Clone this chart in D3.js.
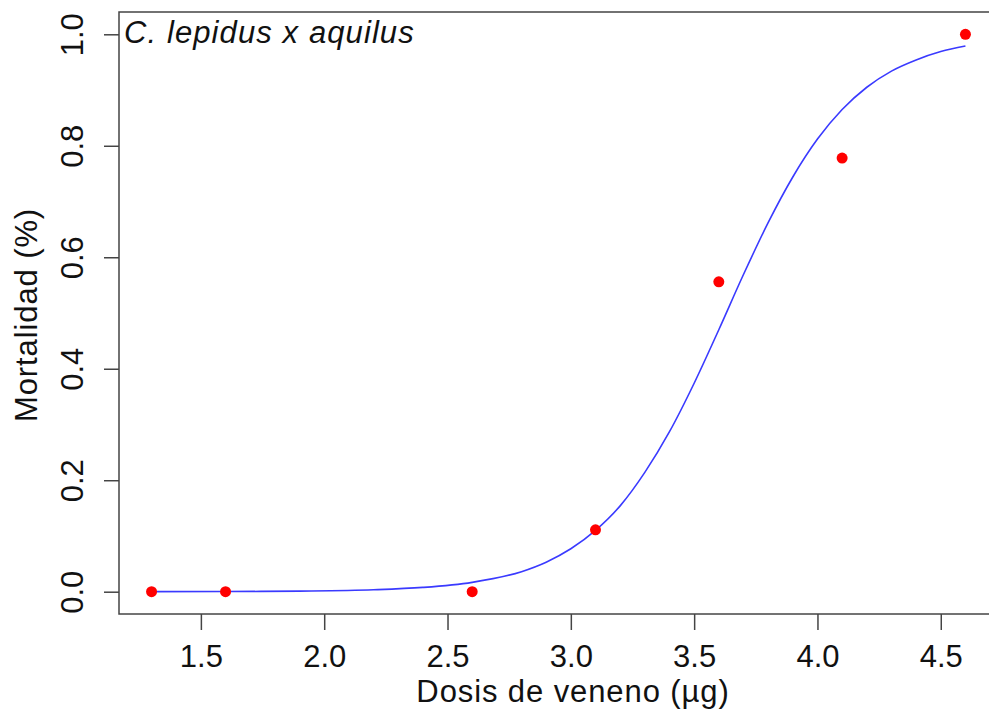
<!DOCTYPE html>
<html>
<head>
  <meta charset="utf-8" />
  <title>Mortalidad vs dosis</title>
  <script src="https://d3js.org/d3.v7.min.js"></script>
  <style>
    body { margin: 0; background: #fff; }
    text { font-family: "Liberation Sans", Arial, sans-serif; fill: #111; }
  </style>
</head>
<body>
  <div id="chart"></div>
  <script type="text/javascript">
    // observed points
    var dose = [1.3, 1.6, 2.6, 3.1, 3.6, 4.1, 4.6];
    var mortality = [0, 0, 0, 0.111, 0.556, 0.778, 1.0];

    // fitted curve
    var curveDose = [1.3, 1.6, 1.9, 2.2, 2.4, 2.6, 2.8, 2.9, 3.0, 3.1, 3.2, 3.3, 3.4,
      3.5, 3.6, 3.7, 3.8, 3.9, 4.0, 4.1, 4.2, 4.3, 4.4, 4.5, 4.6];
    var curveMort = [0.0001, 0.0003, 0.0011, 0.0035, 0.0077, 0.0168, 0.036, 0.053, 0.077,
      0.110, 0.154, 0.214, 0.287, 0.374, 0.470, 0.569, 0.662, 0.744, 0.812, 0.865,
      0.905, 0.934, 0.954, 0.969, 0.979];

    var xTicks = [1.5, 2.0, 2.5, 3.0, 3.5, 4.0, 4.5];
    var yTicks = [0.0, 0.2, 0.4, 0.6, 0.8, 1.0];

    var width = 989, height = 710;
    var box = { left: 119, right: 998, top: 12, bottom: 614 };
    var fontSize = "31px";

    var svg = d3.select("#chart").append("svg")
      .attr("width", width)
      .attr("height", height);

    var x = d3.scaleLinear().domain([1.168, 4.732]).range([box.left, box.right]);
    var y = d3.scaleLinear().domain([-0.04, 1.04]).range([box.bottom, box.top]);

    /* plot frame */
    svg.append("rect")
      .attr("x", box.left).attr("y", box.top)
      .attr("width", box.right - box.left).attr("height", box.bottom - box.top)
      .style("fill", "none").style("stroke", "#444").style("stroke-width", 1.5);

    /* x axis */
    var xAxis = svg.append("g")
      .attr("transform", "translate(0," + box.bottom + ")")
      .call(d3.axisBottom(x).tickValues(xTicks).tickFormat(d3.format(".1f"))
        .tickSize(16).tickSizeOuter(0).tickPadding(15));
    xAxis.select(".domain").remove();
    xAxis.selectAll("line").style("stroke", "#444").style("stroke-width", 1.5);
    xAxis.selectAll("text").style("font-size", fontSize).style("fill", "#111")
      .style("font-family", '"Liberation Sans", Arial, sans-serif');

    /* y axis */
    var yAxis = svg.append("g")
      .attr("transform", "translate(" + box.left + ",0)")
      .call(d3.axisLeft(y).tickValues(yTicks).tickFormat(d3.format(".1f"))
        .tickSize(15).tickSizeOuter(0));
    yAxis.select(".domain").remove();
    yAxis.selectAll("line").style("stroke", "#444").style("stroke-width", 1.5);
    yAxis.selectAll("text")
      .attr("x", null).attr("dy", null)
      .attr("transform", "translate(-36,0) rotate(-90)")
      .style("text-anchor", "middle")
      .style("font-size", fontSize).style("fill", "#111")
      .style("font-family", '"Liberation Sans", Arial, sans-serif');

    /* axis titles */
    svg.append("text")
      .attr("x", 573)
      .attr("y", 702)
      .attr("text-anchor", "middle")
      .style("font-size", fontSize)
      .style("letter-spacing", "0.9px")
      .text("Dosis de veneno (\u00b5g)");

    svg.append("text")
      .attr("transform", "translate(37,315) rotate(-90)")
      .attr("text-anchor", "middle")
      .style("font-size", fontSize)
      .style("letter-spacing", "0.9px")
      .text("Mortalidad (%)");

    svg.append("text")
      .attr("x", 124)
      .attr("y", 43)
      .style("font-size", fontSize)
      .style("font-style", "italic")
      .style("letter-spacing", "1.1px")
      .text("C. lepidus x aquilus");

    /* fitted curve */
    var curveData = curveDose.map(function (d, i) { return { x: d, y: curveMort[i] }; });
    svg.append("path")
      .datum(curveData)
      .attr("d", d3.line().x(function (d) { return x(d.x); })
        .y(function (d) { return y(d.y); }).curve(d3.curveMonotoneX))
      .style("fill", "none").style("stroke", "#3a3aff").style("stroke-width", 1.6);

    /* points */
    svg.selectAll("circle")
      .data(dose)
      .enter().append("circle")
      .attr("cx", function (d) { return x(d); })
      .attr("cy", function (d, i) { return y(mortality[i]); })
      .attr("r", 5.5)
      .style("fill", "#ff0000");
  </script>
</body>
</html>
